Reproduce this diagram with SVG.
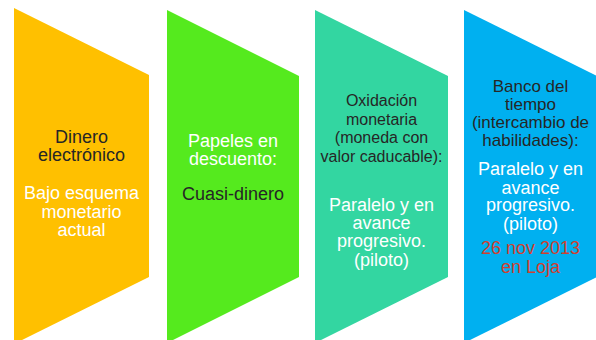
<svg xmlns="http://www.w3.org/2000/svg" width="596" height="340" viewBox="0 0 596 340">
<style>
text{font-family:"Liberation Sans",Arial,sans-serif;text-anchor:middle}
.t18{font-size:18px}
.t17{font-size:17px}
.t16{font-size:16px}
.dk{fill:#262626}
.wh{fill:#ffffff}
.rd{fill:#d0402f}
</style>
<rect width="596" height="340" fill="#ffffff"/>
<g id="node1">
<polygon points="14,8 149,75 149,277 14,344" fill="#ffc000"/>
<text class="t18 dk" x="81.5" y="142.5">Dinero</text>
<text class="t18 dk" x="81.5" y="161">electrónico</text>
<text class="t18 wh" x="81.5" y="199">Bajo esquema</text>
<text class="t18 wh" x="81.5" y="217.5">monetario</text>
<text class="t18 wh" x="81.5" y="235.5">actual</text>
</g>
<g id="node2">
<polygon points="167,10 299,76 299,277 167,343" fill="#55ea1e"/>
<text class="t18 wh" x="233" y="147">Papeles en</text>
<text class="t18 wh" x="233" y="164.5">descuento:</text>
<text class="t18 dk" x="233" y="199.5">Cuasi-dinero</text>
</g>
<g id="node3">
<polygon points="315,10 448,76 448,277 315,343" fill="#33d6a1"/>
<text class="t16 dk" x="381.5" y="106">Oxidación</text>
<text class="t16 dk" x="381.5" y="124.5">monetaria</text>
<text class="t16 dk" x="381.5" y="143">(moneda con</text>
<text class="t16 dk" x="381.5" y="161.5">valor caducable):</text>
<text class="t18 wh" x="381.5" y="210.5">Paralelo y en</text>
<text class="t18 wh" x="381.5" y="229">avance</text>
<text class="t18 wh" x="381.5" y="247">progresivo.</text>
<text class="t18 wh" x="381.5" y="265.5">(piloto)</text>
</g>
<g id="node4">
<polygon points="464,10 597,76 597,277 464,343" fill="#00b0f0"/>
<text class="t17 dk" x="530.5" y="91.5">Banco del</text>
<text class="t17 dk" x="530.5" y="109.5">tiempo</text>
<text class="t17 dk" x="530.5" y="128">(intercambio de</text>
<text class="t17 dk" x="530.5" y="146">habilidades):</text>
<text class="t18 wh" x="530.5" y="175">Paralelo y en</text>
<text class="t18 wh" x="530.5" y="193.5">avance</text>
<text class="t18 wh" x="530.5" y="211">progresivo.</text>
<text class="t18 wh" x="530.5" y="229.5">(piloto)</text>
<text class="t18 rd" x="530.5" y="254">26 nov 2013</text>
<text class="t18 rd" x="530.5" y="272.5">en Loja</text>
</g>
<g id="connectors"></g>
</svg>
